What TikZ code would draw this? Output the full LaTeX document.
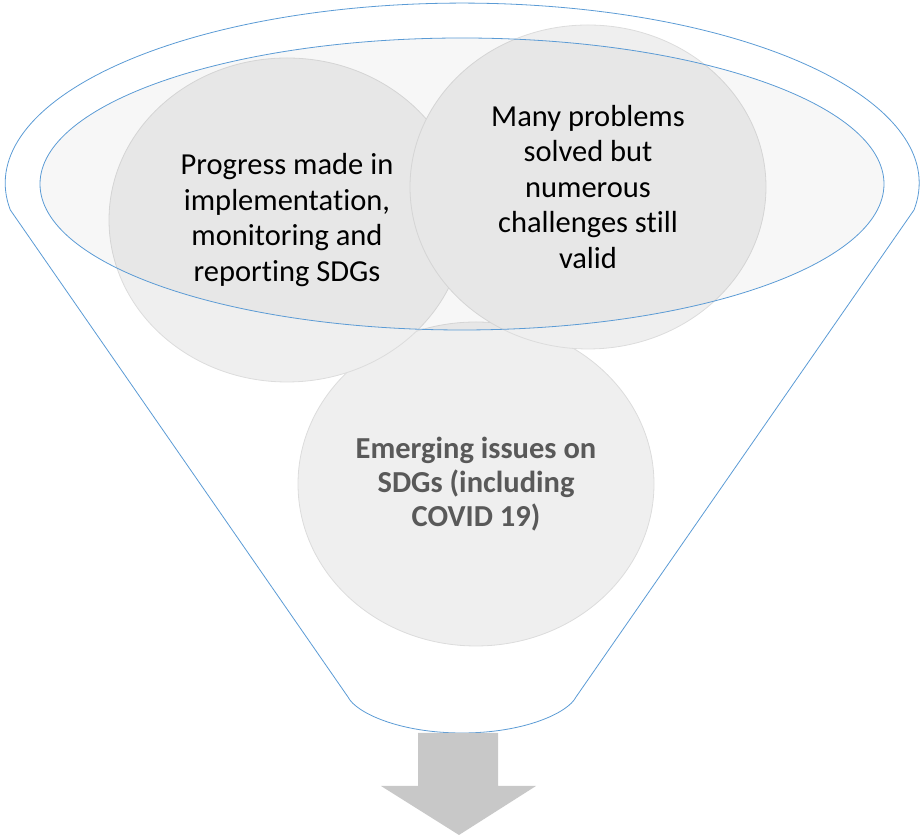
\documentclass[tikz,border=0pt]{standalone}
\usepackage{fontspec}
\setmainfont[RawFeature={-liga;-clig;-dlig;-calt}]{Carlito}
\usepackage{tikz}
\usetikzlibrary{shapes.geometric, positioning}
\definecolor{funnelblue}{HTML}{5B9BD5}
\definecolor{circlegray}{HTML}{EFEFEF}
\definecolor{rimgray}{HTML}{DCDCDC}
\definecolor{arrowgray}{HTML}{C8C8C8}
\definecolor{textgray}{HTML}{595959}

\begin{document}
\begin{tikzpicture}
        [
            x=1pt, y=1pt,
            topic/.style={ellipse, draw=rimgray, line width=0.8pt, fill=circlegray,
                          minimum width=356pt, minimum height=324pt, inner sep=0pt,
                          align=center, font=\fontsize{30.5}{35.5}\selectfont},
            rim/.style={draw=funnelblue, line width=0.8pt}
        ]
        \useasboundingbox (0,0) rectangle (922,837);
        \draw [rim] (914,627) arc [start angle=-8.6, end angle=188.6,
                                   x radius=457, y radius=180]
            -- (348,140) .. controls (356,124) and (400,104) .. (462,104)
            .. controls (524,104) and (568,124) .. (576,140) -- cycle;
        \node (emerging) [topic, text=textgray,
                          font=\fontsize{30.5}{34}\selectfont\bfseries]
            at (476,353) {Emerging issues on\\SDGs (including\\COVID 19)};
        \node (progress) [topic] at (287,617)
            {Progress made in\\implementa\kern0pt tion,\\monitoring and\\reporting SDGs};
        \node (problems) [topic] at (588,650)
            {Many problems\\solved but\\numerous\\challenges still\\valid};
        \node (rimtop) [ellipse, rim, fill=black, fill opacity=0.03,
                        minimum width=844pt, minimum height=292pt, inner sep=0pt]
            at (462,653) {};
        \fill [arrowgray] (418,104) -- (498,104) -- (498,51) -- (536,51)
            -- (459,2) -- (381,51) -- (418,51) -- cycle;
    \end{tikzpicture}
\end{document}
